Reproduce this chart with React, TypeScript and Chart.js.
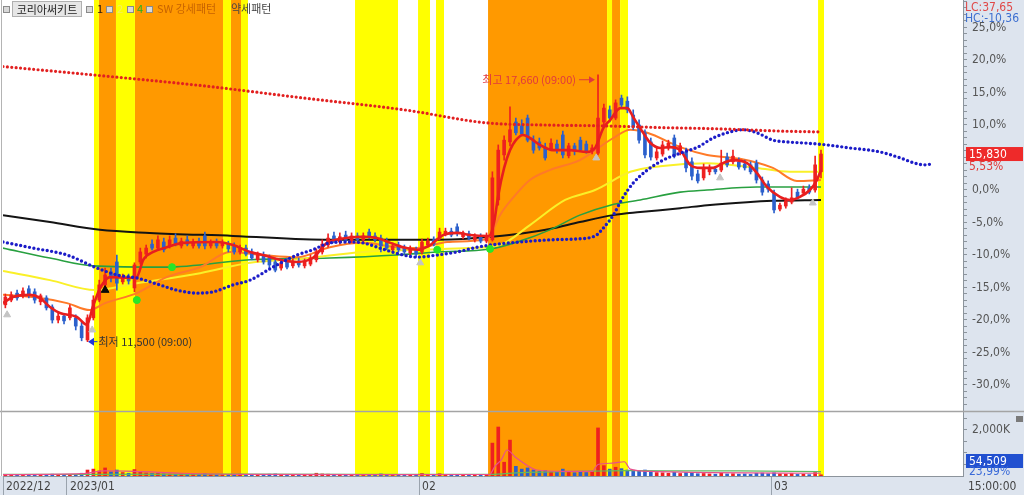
import { useEffect, useRef } from 'react';
import { Chart, registerables } from 'chart.js';

Chart.register(...registerables);

const NARROW = "'Liberation Sans Narrow', 'DejaVu Sans Condensed', 'Liberation Sans', Arial, sans-serif";
const KR = "'Noto Sans CJK KR', 'Noto Sans', sans-serif";
const PANEL_BG = '#dde4ee';
const UP = 'rgb(238, 32, 32)';
const DOWN = 'rgb(44, 96, 204)';
const STRONG = 'rgb(255, 153, 0)';
const WEAK = 'rgb(255, 255, 0)';

// ---- axis ranges ----
const BASE_PRICE = 15000;
const Y_TOP_PCT = 29.23;
const Y_BOTTOM_PCT = -34;
const VOL_MAX = 2826; // thousand shares
const X_MIN = -0.4;
const X_MAX = 163.2;

const dateTickPos = [-0.4, 10.5, 70.5, 130.5];
const dateTickLabels = ['2022/12', '2023/01', '02', '03'];
const pctTicks = Array.from({ length: 63 }, (_, k) => k - 33);
const volTicks = [500, 1000, 1500, 2000, 2500];
const volLabelTick = 2000;

// ---- candles (won) ----
const opens = [
  12350, 12460, 12620, 12560, 12720, 12650, 12420, 12510, 12300, 12000,
  12090, 12050, 12050, 11860, 11540, 12050, 12460, 12810, 13110, 13340,
  12880, 12990, 12740, 13340, 13520, 13750, 13660, 13800, 13710, 13890,
  13710, 13850, 13710, 13820, 13940, 13710, 13800, 13710, 13750, 13710,
  13570, 13660, 13570, 13390, 13500, 13430, 13340, 13200, 13340, 13250,
  13360, 13250, 13290, 13390, 13570, 13730, 13940, 13800, 13960, 13820,
  13940, 13850, 14030, 13940, 13890, 13800, 13620, 13730, 13660, 13550,
  13620, 13570, 13730, 13850, 13890, 13990, 14050, 14150, 13920, 13990,
  13850, 13920, 13820, 13850, 14770, 15810, 16110, 16570, 16480, 16660,
  16150, 16110, 15990, 15920, 16060, 16270, 15790, 16020, 16150, 16060,
  15900, 15850, 16570, 16850, 16660, 17120, 17050, 16730, 16500, 16320,
  16110, 15740, 15830, 15970, 16200, 15880, 15880, 15650, 15370, 15280,
  15420, 15480, 15460, 15760, 15650, 15650, 15600, 15580, 15620, 15230,
  15140, 14930, 14560, 14630, 14720, 14950, 14930, 15050, 15000, 15420,
];
const highs = [
  12600, 12650, 12690, 12740, 12790, 12720, 12600, 12560, 12350, 12160,
  12140, 12350, 12120, 11950, 12120, 12560, 12920, 13200, 13200, 13500,
  13060, 13060, 13320, 13660, 13730, 13850, 13940, 13890, 13940, 13990,
  13890, 13940, 13870, 13890, 14030, 13850, 13870, 13850, 13820, 13780,
  13730, 13730, 13640, 13570, 13570, 13500, 13430, 13390, 13430, 13410,
  13430, 13410, 13500, 13640, 13850, 13990, 14030, 14010, 14050, 14010,
  14010, 14010, 14100, 14010, 13960, 13890, 13780, 13800, 13730, 13710,
  13680, 13870, 13890, 13920, 14120, 14120, 14120, 14220, 14050, 14050,
  13990, 13990, 14010, 15420, 16040, 16250, 16920, 16660, 16620, 16730,
  16250, 16200, 16080, 16180, 16150, 16360, 16080, 16080, 16220, 16130,
  16040, 17660, 16980, 16940, 17080, 17190, 17150, 16850, 16620, 16390,
  16200, 15970, 16130, 16150, 16270, 16080, 15970, 15740, 15460, 15600,
  15580, 15550, 15920, 15850, 15920, 15740, 15690, 15650, 15690, 15300,
  15210, 15000, 14700, 14820, 15050, 15020, 15090, 15120, 15780, 15920,
];
const lows = [
  12280, 12420, 12460, 12510, 12510, 12390, 12350, 12230, 11930, 11930,
  11910, 12000, 11770, 11520, 11500, 12000, 12420, 12690, 12880, 12690,
  12830, 12830, 12650, 13290, 13430, 13620, 13620, 13570, 13660, 13710,
  13660, 13710, 13660, 13660, 13640, 13660, 13660, 13660, 13570, 13520,
  13520, 13480, 13390, 13340, 13290, 13200, 13110, 13150, 13180, 13200,
  13220, 13200, 13250, 13340, 13520, 13680, 13780, 13750, 13800, 13780,
  13800, 13800, 13870, 13800, 13570, 13620, 13570, 13570, 13520, 13500,
  13450, 13520, 13680, 13710, 13850, 13940, 13920, 13940, 13870, 13850,
  13800, 13780, 13780, 13820, 14650, 15690, 16020, 16270, 16250, 16110,
  15850, 15920, 15690, 15900, 15850, 15740, 15740, 15810, 15900, 15850,
  15830, 15810, 16480, 16570, 16620, 16890, 16780, 16390, 16080, 15740,
  15690, 15690, 15780, 15920, 15740, 15810, 15420, 15230, 15160, 15230,
  15350, 15370, 15420, 15530, 15600, 15480, 15460, 15370, 15160, 14880,
  14950, 14470, 14520, 14580, 14680, 14790, 14880, 14910, 14950, 15280,
];
const closes = [
  12530, 12580, 12510, 12670, 12560, 12460, 12560, 12280, 12000, 12090,
  11980, 12280, 11860, 11590, 12050, 12460, 12810, 13040, 12970, 12850,
  12990, 12900, 13270, 13570, 13660, 13660, 13850, 13620, 13850, 13750,
  13820, 13750, 13800, 13710, 13710, 13800, 13710, 13780, 13640, 13570,
  13660, 13520, 13430, 13500, 13340, 13270, 13150, 13320, 13220, 13340,
  13270, 13340, 13430, 13570, 13750, 13890, 13820, 13920, 13850, 13940,
  13850, 13940, 13920, 13850, 13710, 13660, 13710, 13620, 13570, 13640,
  13520, 13800, 13820, 13750, 14030, 14050, 13960, 13990, 14010, 13890,
  13920, 13820, 13940, 15280, 15920, 16150, 16390, 16320, 16290, 16150,
  15920, 15970, 15740, 16080, 15920, 15810, 16020, 15900, 15920, 15900,
  15970, 16660, 16890, 16660, 17010, 16960, 16850, 16450, 16150, 15810,
  15760, 15880, 16040, 16080, 15780, 16020, 15510, 15320, 15210, 15510,
  15480, 15420, 15620, 15580, 15780, 15530, 15510, 15420, 15230, 14950,
  15020, 14540, 14650, 14750, 14820, 14840, 15020, 14950, 15580, 15830,
];
const volumes = [
  60, 45, 50, 70, 40, 55, 65, 50, 80, 45,
  60, 50, 70, 120, 260, 300, 220, 350, 180, 260,
  150, 120, 280, 200, 130, 110, 120, 90, 80, 70,
  90, 60, 70, 60, 100, 60, 50, 60, 70, 60,
  80, 60, 50, 70, 60, 80, 90, 50, 60, 45,
  55, 50, 70, 120, 90, 80, 60, 70, 50, 60,
  55, 50, 60, 45, 90, 60, 50, 55, 45, 60,
  70, 110, 60, 50, 100, 70, 55, 60, 50, 45,
  50, 40, 60, 1430, 2130, 600, 1560, 420, 300, 350,
  260, 200, 230, 180, 160, 300, 170, 140, 200, 150,
  170, 2090, 450, 300, 380, 320, 260, 250, 220, 260,
  200, 150, 140, 120, 160, 110, 150, 130, 100, 110,
  90, 80, 120, 90, 100, 80, 90, 70, 120, 130,
  100, 140, 90, 80, 110, 70, 80, 60, 150, 54.509,
];
const volChangeLabel = '23,99%';

// ---- indicator lines (x = bar index, y = won) ----
const redMaX = [-0.4, 1.3, 4.2, 5.9, 7.6, 9.3, 12.2, 13.9, 14.9, 16.1, 17.8, 21.2, 22.4, 23.5, 25.2, 27.5, 30.3, 36.1, 38.8, 41.7, 43.9, 46.8, 49.7, 52.4, 54.8, 57, 60.9, 63.3, 65.6, 67.8, 70.2, 72.4, 74.6, 77, 79.2, 82.4, 83.3, 84, 85, 86, 87, 88.2, 89.4, 91.1, 93.3, 96.2, 99.1, 100.5, 101.9, 103.1, 104.8, 106, 107, 108.7, 109.9, 111.6, 113.3, 115, 116.7, 118.4, 120.6, 122.3, 124, 126.4, 128.1, 129.8, 132, 133.7, 135.4, 137.1, 138.3, 139];
const redMaY = [12390, 12530, 12580, 12510, 12300, 12160, 12070, 11890, 12300, 12720, 12990, 12970, 12990, 13390, 13570, 13680, 13780, 13800, 13730, 13570, 13500, 13390, 13340, 13430, 13780, 13870, 13920, 13890, 13780, 13680, 13620, 13730, 13960, 14010, 13960, 13940, 14260, 14880, 15510, 15920, 16150, 16270, 16200, 16040, 15920, 15920, 15880, 15970, 16430, 16620, 16890, 16890, 16680, 16320, 16090, 15970, 15990, 15920, 15580, 15510, 15510, 15620, 15690, 15620, 15390, 15070, 14840, 14770, 14840, 15000, 15230, 15460];

const orangeX = [-0.4, 4.7, 10.5, 14.4, 17, 22.4, 27.5, 33.2, 38.3, 43.9, 49.7, 55.3, 60.9, 66.7, 70.2, 75.3, 81.4, 82.6, 84.3, 86.9, 89.4, 92.8, 97.9, 103.6, 106.5, 109.4, 115, 119.6, 125.2, 130.8, 134.9, 139];
const orangeY = [12580, 12530, 12390, 12230, 12390, 12620, 12990, 13220, 13570, 13500, 13450, 13680, 13780, 13680, 13660, 13800, 13850, 13940, 14420, 14880, 15230, 15460, 15690, 16200, 16390, 16320, 15990, 15810, 15720, 15510, 15210, 15230];

const yellowX = [-0.4, 7.6, 15.3, 22.4, 33.2, 41.7, 50.2, 60.9, 70.2, 79.2, 84.3, 89.4, 95.4, 100.5, 106.5, 111.6, 119.6, 128.1, 133.7, 139];
const yellowY = [13130, 12920, 12690, 12850, 13080, 13320, 13410, 13570, 13620, 13660, 13730, 14190, 14770, 15000, 15420, 15550, 15620, 15510, 15420, 15420];

const greenX = [-0.4, 7.6, 14.9, 27.5, 41.7, 55.3, 66.7, 73.6, 82.6, 87.7, 92.8, 97.9, 103.1, 108.2, 115, 119.6, 128.1, 139];
const greenY = [13660, 13430, 13250, 13220, 13390, 13430, 13500, 13570, 13640, 13820, 14080, 14420, 14650, 14770, 14950, 15000, 15070, 15070];

const blackX = [-0.4, 7.6, 16.1, 24.6, 38.8, 55.3, 67.3, 78, 82.6, 87.7, 92.8, 97.9, 103.6, 108.2, 115, 119.6, 126.4, 130.8, 139];
const blackY = [14420, 14260, 14080, 14010, 13940, 13850, 13850, 13870, 13920, 13990, 14100, 14260, 14420, 14490, 14580, 14650, 14720, 14750, 14770];

const blueDotX = [-0.4, 4.7, 10.5, 15.6, 19, 22.4, 26.3, 29.2, 32.7, 35.4, 38.8, 41.7, 45.6, 49.7, 52.4, 55.3, 58.2, 60.9, 63.8, 67.8, 70.2, 73.6, 77, 80.4, 83.8, 87.7, 92.8, 97.1, 100.5, 102.2, 103.6, 105.3, 107, 109.4, 112.1, 115, 118, 120.6, 123.5, 125.7, 128.1, 130.8, 133.2, 136.6, 140, 143.9, 149, 152.5, 155, 156.7, 157.9];
const blueDotY = [13800, 13660, 13500, 13200, 13040, 12970, 12810, 12690, 12620, 12650, 12810, 12920, 13220, 13500, 13620, 13780, 13800, 13780, 13660, 13500, 13450, 13500, 13570, 13680, 13750, 13800, 13850, 13870, 13940, 14170, 14420, 14840, 15160, 15460, 15690, 15850, 15990, 16200, 16340, 16390, 16320, 16150, 16110, 16080, 16040, 15970, 15880, 15740, 15620, 15580, 15600];

const redDotX = [-0.4, 17, 34, 51, 68, 82, 92, 102, 112, 122, 132, 139];
const redDotY = [17850, 17630, 17400, 17120, 16850, 16550, 16500, 16480, 16440, 16410, 16360, 16340];

const volMaX = [-0.4, 13, 17, 22, 30, 40, 60, 82.5, 83.5, 84.5, 85.5, 87, 89, 90.5, 95, 100, 101, 103.5, 105.5, 106.5, 110, 120, 139];
const volMaY = [60, 100, 220, 200, 120, 70, 60, 65, 450, 700, 1130, 800, 450, 260, 200, 200, 500, 560, 620, 300, 200, 150, 120];
const volMa2X = [-0.4, 40, 82.5, 88, 95, 100, 106, 115, 125, 139];
const volMa2Y = [70, 80, 70, 150, 190, 210, 230, 225, 220, 190];

// ---- pattern bands (x = bar index) ----
const bandStart = [15.1, 15.95, 18.85, 22.09, 37.09, 38.45, 40.16, 59.59, 70.33, 73.39, 82.26, 102.54, 103.39, 104.76, 138.5];
const bandEnd = [15.95, 18.85, 22.09, 37.09, 38.45, 40.16, 41.35, 66.92, 72.37, 74.76, 102.54, 103.39, 104.76, 106.12, 139.52];
const bandKind = ['weak', 'strong', 'weak', 'strong', 'weak', 'strong', 'weak', 'weak', 'weak', 'weak', 'strong', 'weak', 'strong', 'weak', 'weak'];

// ---- signal markers ----
const greyMarkX = [0.3, 14.8, 70.7, 100.7, 121.8, 137.6];
const greyMarkY = [12120, 11770, 13320, 15740, 15280, 14700];
const greenMarkX = [22.4, 28.4, 73.6, 82.6];
const greenMarkY = [12460, 13220, 13620, 13640];
const blackMarkX = [17];
const blackMarkY = [12690];

// ---- helpers ----
const idx = closes.map((_, i) => i);
const pts = (xs: number[], ys: number[]) => xs.map((x, i) => ({ x, y: ys[i] }));
const fmt = (n: number) => Math.round(n).toLocaleString('en-US');
const toPrice = (pct: number) => BASE_PRICE * (1 + pct / 100);
const candleColor = (c: any) => (closes[c.dataIndex] >= opens[c.dataIndex] ? UP : DOWN);

const lineDs = (xs: number[], ys: number[], color: string, width: number, order: number, extra: any = {}) => ({
  type: 'line',
  data: pts(xs, ys),
  borderColor: color,
  borderWidth: width,
  pointRadius: 0,
  cubicInterpolationMode: 'monotone',
  fill: false,
  order,
  yAxisID: 'y',
  ...extra,
});

const markDs = (xs: number[], ys: number[], color: string, style: string, radius: number) => ({
  type: 'line',
  data: pts(xs, ys),
  showLine: false,
  pointStyle: style,
  pointRadius: radius,
  pointBackgroundColor: color,
  pointBorderColor: color,
  pointBorderWidth: 1,
  order: 5,
  yAxisID: 'y',
});

const overlayPlugin = {
  id: 'overlay',
  beforeDraw(chart: any) {
    const { ctx, chartArea: a, width, height } = chart;
    ctx.save();
    ctx.fillStyle = PANEL_BG;
    ctx.fillRect(0, 0, width, height);
    ctx.fillStyle = '#ffffff';
    ctx.fillRect(0, 0, a.right, a.bottom);
    ctx.restore();
  },
  afterDraw(chart: any) {
    const { ctx, chartArea: a, width } = chart;
    const xs = chart.scales.x;
    const ys = chart.scales.y;
    const yv = chart.scales.yVol;
    ctx.save();
    // panel separator + left frame
    ctx.strokeStyle = '#a4a4a4';
    ctx.lineWidth = 1.5;
    ctx.beginPath();
    ctx.moveTo(0, Math.round(ys.bottom) + 0.5);
    ctx.lineTo(width, Math.round(ys.bottom) + 0.5);
    ctx.stroke();
    ctx.lineWidth = 1;
    ctx.strokeStyle = '#b4b4b4';
    ctx.beginPath();
    ctx.moveTo(1.5, 0);
    ctx.lineTo(1.5, a.bottom);
    ctx.stroke();

    // highest price annotation
    const hiVal = Math.max(...highs);
    const hiIdx = highs.indexOf(hiVal);
    const hx = xs.getPixelForValue(hiIdx);
    const hy = ys.getPixelForValue(hiVal) + 5;
    ctx.font = `11px ${KR}`;
    ctx.textBaseline = 'middle';
    ctx.fillStyle = '#e0393e';
    ctx.strokeStyle = '#e0393e';
    ctx.textAlign = 'right';
    ctx.fillText(`최고 ${fmt(hiVal)} (09:00)`, hx - 22, hy);
    ctx.beginPath();
    ctx.moveTo(hx - 19, hy);
    ctx.lineTo(hx - 7, hy);
    ctx.stroke();
    ctx.beginPath();
    ctx.moveTo(hx - 3, hy);
    ctx.lineTo(hx - 9, hy - 3.5);
    ctx.lineTo(hx - 9, hy + 3.5);
    ctx.closePath();
    ctx.fill();

    // lowest price annotation
    const loVal = Math.min(...lows);
    const loIdx = lows.indexOf(loVal);
    const lx = xs.getPixelForValue(loIdx);
    const ly = ys.getPixelForValue(loVal);
    ctx.fillStyle = '#2038d8';
    ctx.strokeStyle = '#2038d8';
    ctx.beginPath();
    ctx.moveTo(lx + 0.5, ly);
    ctx.lineTo(lx + 6.5, ly - 4);
    ctx.lineTo(lx + 6.5, ly + 4);
    ctx.closePath();
    ctx.fill();
    ctx.beginPath();
    ctx.moveTo(lx + 6, ly);
    ctx.lineTo(lx + 10, ly);
    ctx.stroke();
    ctx.fillStyle = '#333333';
    ctx.textAlign = 'left';
    ctx.fillText(`최저 ${fmt(loVal)} (09:00)`, lx + 11, ly);

    // last price label on the axis
    const last = closes[closes.length - 1];
    const py = ys.getPixelForValue(last);
    const ax = a.right + 3;
    ctx.font = `12px ${NARROW}`;
    ctx.fillStyle = '#ee2a2a';
    ctx.fillRect(ax, py - 7, 57, 14);
    ctx.fillStyle = '#ffffff';
    ctx.fillText(fmt(last), ax + 3, py + 0.5);
    ctx.fillStyle = '#e03a3a';
    const pct = ((last / BASE_PRICE - 1) * 100).toFixed(2).replace('.', ',');
    ctx.fillText(`${pct}%`, ax + 3, py + 13);

    // last volume label
    const lastV = volumes[volumes.length - 1];
    const vy = Math.min(yv.getPixelForValue(lastV), yv.bottom - 15);
    ctx.fillStyle = '#2150d0';
    ctx.fillRect(ax, vy - 7, 57, 14);
    ctx.fillStyle = '#ffffff';
    ctx.fillText(fmt(lastV * 1000), ax + 3, vy + 0.5);
    ctx.fillStyle = '#3a6ad8';
    ctx.fillText(volChangeLabel, ax + 3, vy + 10.5);
    ctx.restore();
  },
};

export default function App() {
  const canvasRef = useRef<HTMLCanvasElement | null>(null);

  useEffect(() => {
    document.body.style.margin = '0';
    const canvas = canvasRef.current;
    if (!canvas) return;

    const bandDatasets = bandStart.map((s, k) => ({
      type: 'line',
      data: [{ x: s, y: 1 }, { x: bandEnd[k], y: 1 }],
      yAxisID: 'yBand',
      borderWidth: 0,
      borderColor: 'transparent',
      pointRadius: 0,
      backgroundColor: bandKind[k] === 'strong' ? STRONG : WEAK,
      fill: 'start',
      order: 100,
    }));

    const datasets: any[] = [
      ...bandDatasets,
      {
        type: 'bar',
        data: idx.map((i) => ({ x: i, y: volumes[i] })),
        yAxisID: 'yVol',
        backgroundColor: candleColor,
        barThickness: 3,
        grouped: false,
        order: 60,
      },
      lineDs(volMa2X, volMa2Y, 'rgb(96, 186, 96)', 1.2, 55, { yAxisID: 'yVol' }),
      lineDs(volMaX, volMaY, 'rgb(232, 80, 140)', 1.2, 54, { yAxisID: 'yVol' }),
      lineDs(blackX, blackY, 'rgb(20, 20, 20)', 2, 45),
      lineDs(greenX, greenY, 'rgb(40, 160, 64)', 1.6, 44),
      lineDs(yellowX, yellowY, 'rgb(250, 240, 40)', 2, 43),
      lineDs(orangeX, orangeY, 'rgb(255, 122, 40)', 2, 42),
      {
        type: 'bar',
        data: idx.map((i) => ({ x: i, y: [lows[i], highs[i]] })),
        yAxisID: 'y',
        backgroundColor: candleColor,
        barThickness: 1,
        grouped: false,
        order: 31,
      },
      {
        type: 'bar',
        data: idx.map((i) => ({ x: i, y: [opens[i], closes[i]] })),
        yAxisID: 'y',
        backgroundColor: candleColor,
        barThickness: 3,
        minBarLength: 1,
        grouped: false,
        order: 30,
      },
      lineDs(redMaX, redMaY, 'rgb(232, 30, 30)', 2.6, 20),
      lineDs(blueDotX, blueDotY, 'rgb(28, 28, 200)', 3.4, 15, { borderDash: [0, 4.5], borderCapStyle: 'round' }),
      lineDs(redDotX, redDotY, 'rgb(226, 32, 32)', 3.2, 14, { borderDash: [0, 4.4], borderCapStyle: 'round' }),
      markDs(greyMarkX, greyMarkY, 'rgb(196, 196, 196)', 'triangle', 4),
      markDs(greenMarkX, greenMarkY, 'rgb(40, 230, 40)', 'circle', 3.5),
      markDs(blackMarkX, blackMarkY, 'rgb(10, 10, 10)', 'triangle', 4.5),
    ];

    const tickFont = { family: NARROW, size: 12 };
    const chart = new Chart(canvas, {
      type: 'bar',
      data: { datasets },
      plugins: [overlayPlugin],
      options: {
        responsive: false,
        animation: false,
        devicePixelRatio: 1,
        events: [],
        layout: { autoPadding: false, padding: { left: 3, top: 0, right: 0, bottom: 0 } },
        plugins: { legend: { display: false }, tooltip: { enabled: false } },
        scales: {
          x: {
            type: 'linear',
            min: X_MIN,
            max: X_MAX,
            offset: false,
            grid: { offset: false, drawOnChartArea: false, drawTicks: true, tickLength: 19, color: '#9aa3ad' },
            border: { display: true, color: '#8c949c' },
            ticks: {
              autoSkip: false,
              maxRotation: 0,
              align: 'start',
              labelOffset: 3,
              padding: -15,
              font: tickFont,
              color: '#444',
              callback: (_v: any, i: number) => dateTickLabels[i] ?? '',
            },
            afterBuildTicks: (s: any) => {
              s.ticks = dateTickPos.map((value) => ({ value }));
            },
            afterFit: (s: any) => {
              s.height = 19;
              s.paddingLeft = 0;
              s.paddingRight = 0;
            },
          },
          y: {
            type: 'linear',
            position: 'right',
            stack: 'panels',
            stackWeight: 411,
            min: toPrice(Y_BOTTOM_PCT),
            max: toPrice(Y_TOP_PCT),
            beginAtZero: false,
            grid: { drawOnChartArea: false, tickLength: 4, color: '#8c949c' },
            border: { display: true, color: '#8c949c' },
            ticks: {
              autoSkip: false,
              padding: 5,
              font: tickFont,
              color: '#555',
              callback: (v: number) => {
                const p = Math.round((v / BASE_PRICE - 1) * 100);
                return p % 5 === 0 ? `${p},0%` : '';
              },
            },
            afterBuildTicks: (s: any) => {
              s.ticks = pctTicks.map((p) => ({ value: toPrice(p) }));
            },
            afterFit: (s: any) => {
              s.width = 61;
              s.paddingTop = 0;
              s.paddingBottom = 0;
            },
          },
          yVol: {
            type: 'linear',
            position: 'right',
            stack: 'panels',
            stackWeight: 65,
            min: 0,
            max: VOL_MAX,
            beginAtZero: false,
            grid: { drawOnChartArea: false, tickLength: 4, color: '#8c949c' },
            border: { display: true, color: '#8c949c' },
            ticks: {
              autoSkip: false,
              padding: 5,
              font: tickFont,
              color: '#555',
              callback: (v: number) => (v === volLabelTick ? `${fmt(v)}K` : ''),
            },
            afterBuildTicks: (s: any) => {
              s.ticks = volTicks.map((value) => ({ value }));
            },
            afterFit: (s: any) => {
              s.width = 61;
              s.paddingTop = 0;
              s.paddingBottom = 0;
            },
          },
          yBand: { type: 'linear', display: false, min: 0, max: 1 },
        },
      } as any,
    } as any);

    return () => chart.destroy();
  }, []);

  const sq = (left: number) => (
    <div
      style={{
        position: 'absolute',
        left,
        top: 6,
        width: 5,
        height: 5,
        border: '1px solid #8a8a8a',
        background: '#d8d8d8',
      }}
    />
  );
  const txt = (left: number, text: string, color: string, top = 1, font = KR, size = 11) => (
    <div
      style={{
        position: 'absolute',
        left,
        top,
        fontFamily: font,
        fontSize: size,
        lineHeight: '15px',
        color,
        whiteSpace: 'nowrap',
      }}
    >
      {text}
    </div>
  );

  return (
    <div style={{ position: 'relative', width: 1024, height: 495, overflow: 'hidden', background: PANEL_BG }}>
      <canvas
        ref={canvasRef}
        width={1024}
        height={495}
        style={{ position: 'absolute', left: 0, top: 0, width: 1024, height: 495 }}
      />
      {sq(3)}
      <div
        style={{
          position: 'absolute',
          left: 12,
          top: 1,
          width: 68,
          height: 14,
          border: '1px solid #b0b0b0',
          background: '#e6e6e6',
          fontFamily: KR,
          fontSize: 11,
          lineHeight: '14px',
          color: '#222',
          textAlign: 'center',
        }}
      >
        코리아써키트
      </div>
      {sq(86)}
      {txt(97, '1', '#2a1a10')}
      {sq(106)}
      {txt(117, '2', '#f4f060')}
      {sq(127)}
      {txt(137, '4', '#22b022')}
      {sq(146)}
      {txt(157, 'SW 강세패턴', '#c86400')}
      {txt(231, '약세패턴', '#444444')}
      {txt(965, 'LC:37,65', '#e04848', 0, NARROW, 12)}
      {txt(965, 'HC:-10,36', '#3d6fd0', 11, NARROW, 12)}
      {txt(968, '15:00:00', '#444444', 479, NARROW, 12)}
      <div
        style={{ position: 'absolute', left: 1016, top: 416, width: 7, height: 6, background: '#7a7a7a' }}
      />
    </div>
  );
}
